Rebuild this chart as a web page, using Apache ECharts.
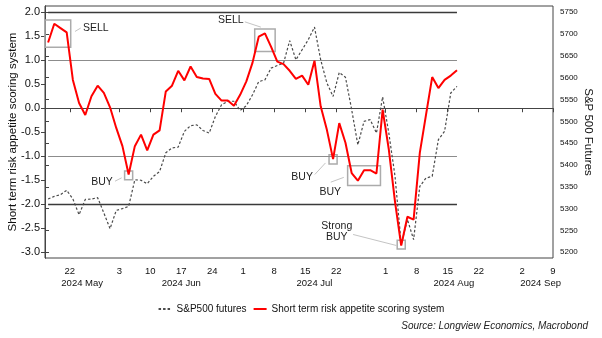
<!DOCTYPE html>
<html>
<head>
<meta charset="utf-8">
<script src="https://cdn.jsdelivr.net/npm/echarts@6/dist/echarts.min.js"></script>
<style>html,body{margin:0;padding:0;background:#fff}#c{width:602px;height:338px}</style>
</head>
<body>
<div id="c"></div>
<script>
// ---------- data ----------
const firstDate = '2024-05-16';   // first business day shown
const lastDate = '2024-09-09';    // axis end
// daily (business day) values starting at firstDate
const riskScore = [1.37,1.76,1.67,1.58,0.59,0.11,-0.14,0.25,0.47,0.32,
  0.02,-0.41,-0.79,-1.38,-0.79,-0.55,-0.88,-0.55,-0.46,0.35,
  0.47,0.78,0.58,0.87,0.65,0.62,0.61,0.30,0.16,0.16,
  0.05,0.28,0.56,0.95,1.49,1.56,1.28,0.97,0.92,0.78,
  0.61,0.68,0.49,0.99,0.04,-0.45,-1.06,-0.31,-0.72,-1.35,
  -1.51,-1.29,-1.29,-1.36,-0.03,-0.86,-1.95,-2.86,-2.26,-2.32,
  -0.93,-0.14,0.65,0.42,0.59,0.68,0.79];
const sp500Futures = [5322,5328,5332,5342,5322,5286,5321,5322,5325,5290,
  5254,5296,5300,5305,5366,5365,5357,5374,5385,5428,
  5439,5441,5477,5490,5492,5479,5473,5511,5538,5546,
  5546,5525,5536,5561,5591,5595,5622,5628,5633,5685,
  5641,5664,5687,5716,5641,5588,5557,5612,5601,5527,
  5446,5500,5504,5473,5556,5473,5374,5218,5275,5229,
  5351,5370,5374,5458,5477,5565,5580];
const tickDates = ['2024-05-22','2024-06-03','2024-06-10','2024-06-17','2024-06-24',
  '2024-07-01','2024-07-08','2024-07-15','2024-07-22',
  '2024-08-01','2024-08-08','2024-08-15','2024-08-22','2024-09-02','2024-09-09'];
const monthNames = ['2024 May','2024 Jun','2024 Jul','2024 Aug','2024 Sep'];
const scoreTicks = [-3,-2.5,-2,-1.5,-1,-0.5,0,0.5,1,1.5,2];
const spTicks = [5200,5250,5300,5350,5400,5450,5500,5550,5600,5650,5700,5750];
const levels = [2, 1, -1, -2];
// annotation boxes: date span and score span
const boxes = [
  {start:'2024-05-16', end:'2024-05-21', low:1.27, high:1.84},
  {start:'2024-06-04', end:'2024-06-04', low:-1.49, high:-1.31},
  {start:'2024-07-03', end:'2024-07-05', low:1.18, high:1.65},
  {start:'2024-07-19', end:'2024-07-19', low:-1.16, high:-0.97},
  {start:'2024-07-24', end:'2024-07-30', low:-1.61, high:-1.20},
  {start:'2024-08-05', end:'2024-08-05', low:-2.93, high:-2.75}
];
// annotation labels: text position (axis units) and leader line ends
const notes = [
  {text:'SELL', at:[8.2,1.66], line:[[4.84,1.60],[5.76,1.67]]},
  {text:'BUY', at:[9.2,-1.54], line:[[11.3,-1.52],[12.37,-1.45]]},
  {text:'SELL', at:[30.0,1.83], line:[[32.26,1.80],[34.84,1.69]]},
  {text:'BUY', at:[41.5,-1.43], line:[[43.55,-1.38],[45.27,-1.14]]},
  {text:'BUY', at:[46.05,-1.74], line:[[46.13,-1.54],[48.23,-1.44]]},
  {text:'Strong\nBUY', at:[47.1,-2.58], line:[[49.73,-2.63],[56.73,-2.86]]}
];

// ---------- helpers ----------
function businessDays(a, b) {
  const out = [];
  const d = new Date(a + 'T00:00:00Z'), e = new Date(b + 'T00:00:00Z');
  while (d <= e) {
    const w = d.getUTCDay();
    if (w !== 0 && w !== 6) out.push(d.toISOString().slice(0, 10));
    d.setUTCDate(d.getUTCDate() + 1);
  }
  return out;
}
const dates = businessDays(firstDate, lastDate);
const idx = d => dates.indexOf(d);
const xMax = idx(lastDate);
const tickIdx = tickDates.map(idx);
const riskData = riskScore.map((v, i) => [i + 0.5, v]);
const spData = sp500Futures.map((v, i) => [i + 0.5, v]);

// month label centres
const monthCenters = [];
const months = [];
dates.forEach((d, i) => {
  const m = d.slice(0, 7);
  let g = months.find(x => x.m === m);
  if (!g) { g = {m, s: i, e: i}; months.push(g); } else g.e = i;
});
months.forEach(g => monthCenters.push((g.s + g.e + 1) / 2));

const x0 = riskData[0][0], x1 = riskData[riskData.length - 1][0];
const levelLines = levels.map(v => [
  {coord:[x0, v], lineStyle:{color: Math.abs(v) === 2 ? '#3a3a3a' : '#8c8c8c', width: Math.abs(v) === 2 ? 1.4 : 1.2, type:'solid'}},
  {coord:[x1, v]}
]);
const leaderLines = notes.map(n => [
  {coord:n.line[0], lineStyle:{color:'#c4c4c4', width:1, type:'solid'}},
  {coord:n.line[1]}
]);
const boxAreas = boxes.map(b => {
  const s = Math.max(0, idx(b.start) - 0.15), e = idx(b.end) + 1.15;
  return [{coord:[s, b.high]}, {coord:[e, b.low]}];
});
const notePoints = notes.map(n => ({coord:n.at, value:n.text}));

const font = 'Arial, "Liberation Sans", sans-serif';
const chart = echarts.init(document.getElementById('c'), null, {renderer:'canvas'});
chart.setOption({
  animation: false,
  backgroundColor: '#fff',
  textStyle: {fontFamily: font},
  title: {
    text: 'Source: Longview Economics, Macrobond',
    right: 9, top: 316,
    textStyle: {fontSize: 10, fontStyle: 'italic', fontWeight: 'normal', color: '#222', fontFamily: font}
  },
  legend: {
    left: 'center', top: 299,
    itemWidth: 13, itemHeight: 8, itemGap: 6,
    itemStyle: {opacity: 0},
    textStyle: {fontSize: 10, color: '#111', fontFamily: font},
    data: ['S&P500 futures', 'Short term risk appetite scoring system']
  },
  grid: {left: 45, right: 49, top: 6, bottom: 80, containLabel: false, outerBoundsMode: 'none',
    show: true, borderColor: '#444', borderWidth: 1},
  xAxis: [{
    type: 'value', min: 0, max: xMax,
    axisLine: {show: true, lineStyle: {color: '#444'}},
    splitLine: {show: false},
    axisTick: {show: true, length: 4, lineStyle: {color: '#444'}, customValues: tickIdx},
    axisLabel: {customValues: tickIdx, fontSize: 9.5, color: '#111', margin: 8,
      formatter: v => String(parseInt(dates[Math.round(v)].slice(8, 10), 10))}
  }, {
    type: 'value', min: 0, max: xMax, position: 'bottom', offset: 12,
    axisLine: {show: false}, axisTick: {show: false}, splitLine: {show: false},
    axisLabel: {customValues: monthCenters, fontSize: 9.5, color: '#111', margin: 8,
      formatter: v => monthNames[monthCenters.indexOf(v)] || ''}
  }],
  yAxis: [{
    type: 'value', min: -3.12, max: 2.13, position: 'left',
    name: 'Short term risk appetite scoring system', nameLocation: 'middle', nameGap: 26, nameRotate: 90,
    nameMoveOverlap: false,
    nameTextStyle: {fontSize: 11.5, color: '#111', fontFamily: font},
    axisLine: {show: true, lineStyle: {color: '#444'}},
    splitLine: {show: false},
    axisTick: {show: true, length: 4, lineStyle: {color: '#444'}, customValues: scoreTicks},
    axisLabel: {customValues: scoreTicks, fontSize: 11, color: '#111', margin: 5,
      formatter: v => v.toFixed(1)}
  }, {
    type: 'value', min: 5186.8, max: 5764.3, position: 'right',
    name: 'S&P 500 Futures', nameLocation: 'middle', nameGap: 29, nameRotate: -90,
    nameMoveOverlap: false,
    nameTextStyle: {fontSize: 11.5, color: '#111', fontFamily: font},
    axisLine: {show: true, lineStyle: {color: '#444'}},
    splitLine: {show: false},
    axisTick: {show: true, length: 4, lineStyle: {color: '#444'}, customValues: spTicks},
    axisLabel: {customValues: spTicks, fontSize: 8, color: '#111', margin: 7,
      formatter: v => String(Math.round(v))}
  }],
  series: [{
    name: 'S&P500 futures', type: 'line', yAxisIndex: 1, data: spData,
    showSymbol: false, symbol: 'none',
    lineStyle: {color: '#4a4a4a', width: 1.2, type: [2.5, 2]},
    itemStyle: {color: '#4a4a4a'}, z: 2
  }, {
    name: 'Short term risk appetite scoring system', type: 'line', yAxisIndex: 0, data: riskData,
    showSymbol: false, symbol: 'none',
    lineStyle: {color: '#ff0000', width: 2}, itemStyle: {color: '#ff0000'}, z: 3,
    markLine: {silent: true, symbol: 'none', label: {show: false}, z: 1,
      data: levelLines.concat(leaderLines)},
    markArea: {silent: true, itemStyle: {color: 'rgba(0,0,0,0)', borderColor: '#ababab', borderWidth: 1.5},
      data: boxAreas},
    markPoint: {silent: true, symbol: 'rect', symbolSize: 1, itemStyle: {color: 'rgba(0,0,0,0)'},
      label: {show: true, position: 'inside', formatter: p => p.value, fontSize: 10.5, color: '#222',
        lineHeight: 11, fontFamily: font},
      data: notePoints}
  }]
});
</script>
</body>
</html>
